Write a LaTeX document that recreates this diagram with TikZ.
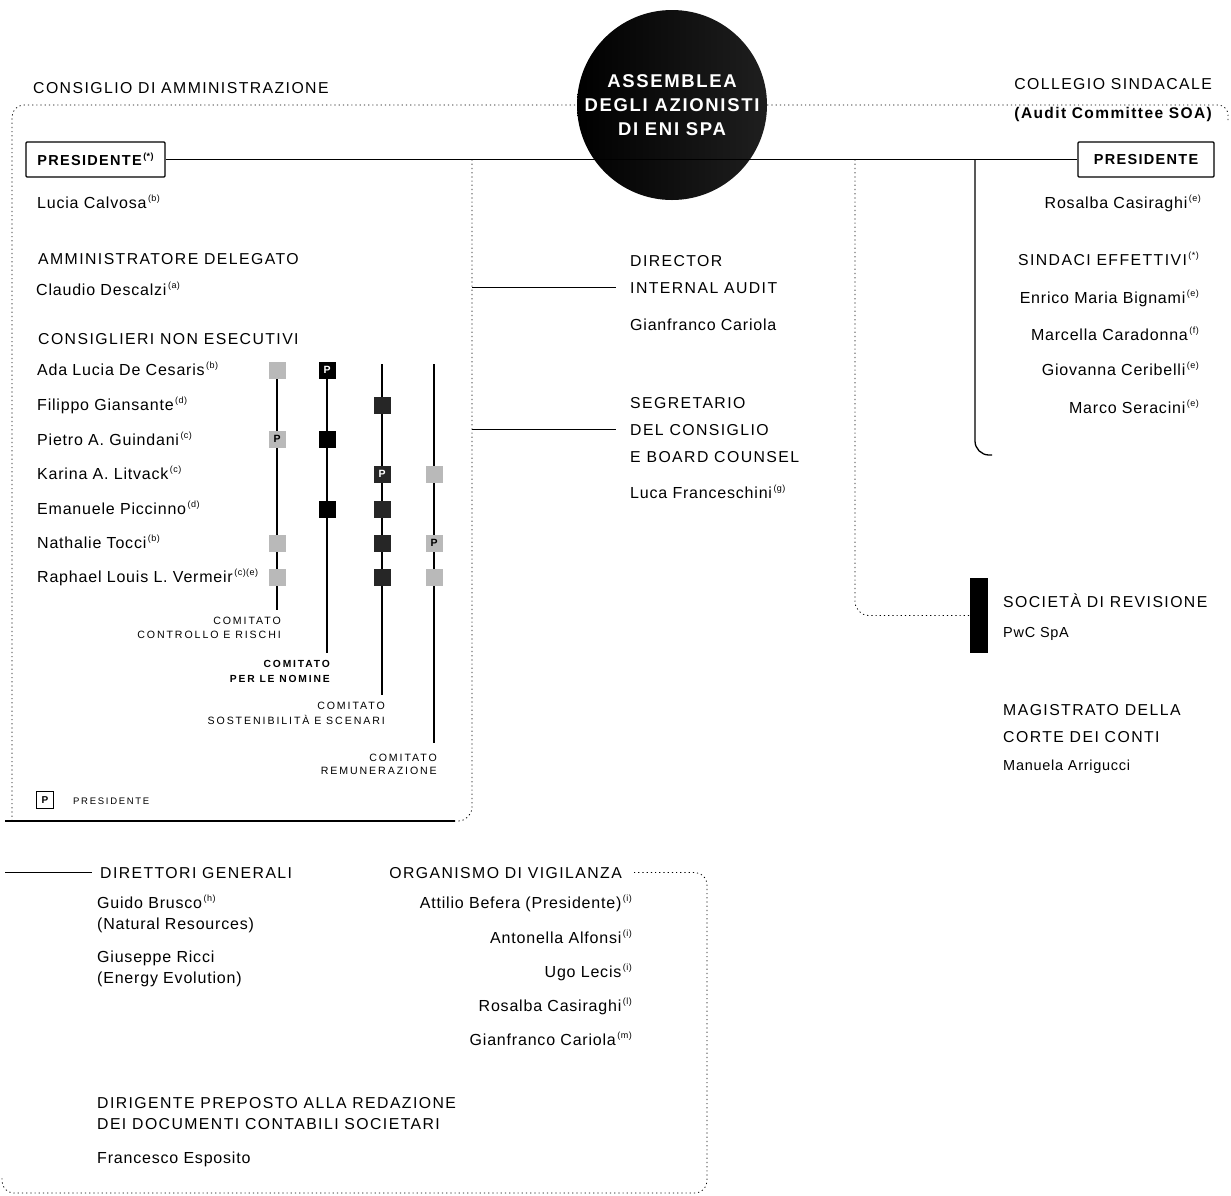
\documentclass[tikz,border=0pt]{standalone}
\usepackage{fontspec}
\setmainfont{Liberation Sans}
\newfontfamily\hdrf[LetterSpace=9]{Liberation Sans}
\newfontfamily\nmf[LetterSpace=5]{Liberation Sans}
\newfontfamily\smf[LetterSpace=18]{Liberation Sans}
\newcommand{\nt}[1]{\kern1.5pt\raisebox{0.42em}{\nmf\fontsize{9}{9}\selectfont(#1)}}
\begin{document}
\begin{tikzpicture}[x=1pt,y=-1pt,
  hdr/.style={font=\hdrf\fontsize{15.8}{18}\selectfont, inner sep=0pt},
  hdrb/.style={font=\hdrf\bfseries\fontsize{15.5}{18}\selectfont, inner sep=0pt},
  nm/.style={font=\nmf\fontsize{16}{18}\selectfont, inner sep=0pt},
  nms/.style={font=\nmf\fontsize{14.5}{16}\selectfont, inner sep=0pt},
  sm/.style={font=\smf\fontsize{10.6}{12}\selectfont, inner sep=0pt},
  smb/.style={font=\smf\bfseries\fontsize{10.3}{12}\selectfont, inner sep=0pt},
  tw/.style={anchor=base west},
  te/.style={anchor=base east},
  dotline/.style={line width=0.8pt, dash pattern=on 1.2pt off 3pt},
  solidline/.style={line width=1.3pt},
  cline/.style={line width=1.6pt},
  sq/.style={minimum size=17pt, inner sep=0pt, font=\bfseries\fontsize{10.5}{10}\selectfont},
  ccr/.style={sq, fill=gray!55},
  nom/.style={sq, fill=black, text=white},
  sos/.style={sq, fill=black!85, text=white},
  rem/.style={sq, fill=gray!55},
  pbox/.style={draw, line width=1.2pt, rounded corners=1pt, inner sep=0pt, minimum height=35pt, font=\hdrf\bfseries\fontsize{14.5}{16}\selectfont},
]
\fill[white] (0,0) rectangle (1231,1195);
\useasboundingbox (0,0) rectangle (1231,1195);

% ---------- central circle ----------
\node[circle, shading=axis, left color=black, right color=black!88, minimum size=190pt, inner sep=0pt,
      text=white, align=center, font=\hdrf\bfseries\fontsize{18.5}{24}\selectfont] (ass) at (672,105)
      {ASSEMBLEA\\DEGLI AZIONISTI\\DI ENI SPA};

% ---------- presidente boxes ----------
\node[pbox, minimum width=139pt] (presL) at (95.5,159.5) {PRESIDENTE\nt{*}};
\node[pbox, minimum width=136pt] (presR) at (1146,159.5) {PRESIDENTE};

% ---------- coordinates ----------
\coordinate (cdaBL) at (12,821);
\coordinate (botL) at (5,821);
\coordinate (botEnd) at (455,821);
\coordinate (cdaTR) at (472,159.5);
\coordinate (tr) at (1228,120);
\coordinate (rv0) at (855,159.5);
\coordinate (cs0) at (975,159.5);
\coordinate (cs1) at (992,455);
\coordinate (dgL) at (5,875);
\coordinate (ovBR) at (707,1193);
\coordinate (ovBL) at (2,1176);

% ---------- texts: consiglio di amministrazione ----------
\node[hdr, tw] (cda) at (33,93) {CONSIGLIO DI AMMINISTRAZIONE};
\node[nm, tw] (calv) at (37,208) {Lucia Calvosa\nt{b}};
\node[hdr, tw] (ad) at (38,264) {AMMINISTRATORE DELEGATO};
\node[nm, tw] (desc) at (36,295) {Claudio Descalzi\nt{a}};
\node[hdr, tw] (cne) at (38,344) {CONSIGLIERI NON ESECUTIVI};
\node[nm, tw] (m1) at (37,375) {Ada Lucia De Cesaris\nt{b}};
\node[nm, tw] (m2) at (37,410) {Filippo Giansante\nt{d}};
\node[nm, tw] (m3) at (37,445) {Pietro A. Guindani\nt{c}};
\node[nm, tw] (m4) at (37,479) {Karina A. Litvack\nt{c}};
\node[nm, tw] (m5) at (37,514) {Emanuele Piccinno\nt{d}};
\node[nm, tw] (m6) at (37,548) {Nathalie Tocci\nt{b}};
\node[nm, tw] (m7) at (37,582) {Raphael Louis L. Vermeir\nt{c}\kern-1pt\nt{e}};

% ---------- committees ----------
\coordinate (c1t) at (277,370); \coordinate (c1b) at (277,610);
\coordinate (c2t) at (327,370); \coordinate (c2b) at (327,653);
\coordinate (c3t) at (382,364); \coordinate (c3b) at (382,695);
\coordinate (c4t) at (434,364); \coordinate (c4b) at (434,743);
\draw[cline] (c1t) -- (c1b);
\draw[cline] (c2t) -- (c2b);
\draw[cline] (c3t) -- (c3b);
\draw[cline] (c4t) -- (c4b);

\node[ccr] (s11) at (277,370) {};
\node[nom] (s12) at (327,370) {P};
\node[sos] (s23) at (382,405) {};
\node[ccr] (s31) at (277,439) {P};
\node[nom] (s32) at (327,439) {};
\node[sos] (s43) at (382,474) {P};
\node[rem] (s44) at (434,474) {};
\node[nom] (s52) at (327,509) {};
\node[sos] (s53) at (382,509) {};
\node[ccr] (s61) at (277,543) {};
\node[sos] (s63) at (382,543) {};
\node[rem] (s64) at (434,543) {P};
\node[ccr] (s71) at (277,577) {};
\node[sos] (s73) at (382,577) {};
\node[rem] (s74) at (434,577) {};

\node[sm, te] (k1a) at (281,624) {COMITATO};
\node[sm, te] (k1b) at (281,638) {CONTROLLO E RISCHI};
\node[smb, te] (k2a) at (330,667) {COMITATO};
\node[smb, te] (k2b) at (330,682) {PER LE NOMINE};
\node[sm, te] (k3a) at (385,709) {COMITATO};
\node[sm, te] (k3b) at (385,724) {SOSTENIBILITÀ E SCENARI};
\node[sm, te] (k4a) at (437,761) {COMITATO};
\node[sm, te] (k4b) at (437,774) {REMUNERAZIONE};

\node[draw, line width=1pt, minimum size=17pt, inner sep=0pt, font=\bfseries\fontsize{10}{10}\selectfont] (lgP) at (45,800) {P};
\node[font=\smf\fontsize{9.5}{11}\selectfont, inner sep=0pt, tw] (lgT) at (73,804) {PRESIDENTE};

% ---------- middle ----------
\node[hdr, tw] (ia1) at (630,266) {DIRECTOR};
\node[hdr, tw] (ia2) at (630,293) {INTERNAL AUDIT};
\node[nm, tw] (ia3) at (630,330) {Gianfranco Cariola};
\node[hdr, tw] (sg1) at (630,408) {SEGRETARIO};
\node[hdr, tw] (sg2) at (630,435) {DEL CONSIGLIO};
\node[hdr, tw] (sg3) at (630,462) {E BOARD COUNSEL};
\node[nm, tw] (sg4) at (630,498) {Luca Franceschini\nt{g}};

% ---------- collegio sindacale ----------
\node[hdr, te] (cs) at (1212,89) {COLLEGIO SINDACALE};
\node[hdrb, te] (soa) at (1212,118) {(Audit Committee SOA)};
\node[nm, te] (rc) at (1201,208) {Rosalba Casiraghi\nt{e}};
\node[hdr, te] (se) at (1199,265) {SINDACI EFFETTIVI\nt{*}};
\node[nm, te] (se1) at (1199,303) {Enrico Maria Bignami\nt{e}};
\node[nm, te] (se2) at (1199,340) {Marcella Caradonna\nt{f}};
\node[nm, te] (se3) at (1199,375) {Giovanna Ceribelli\nt{e}};
\node[nm, te] (se4) at (1199,413) {Marco Seracini\nt{e}};

\node[fill=black, minimum width=18pt, minimum height=75pt, inner sep=0pt] (rbar) at (979,615.5) {};
\node[hdr, tw] (rev) at (1003,607) {SOCIETÀ DI REVISIONE};
\node[nms, tw] (pwc) at (1003,637) {PwC SpA};
\node[hdr, tw] (mg1) at (1003,715.5) {MAGISTRATO DELLA};
\node[hdr, tw] (mg2) at (1003,742.5) {CORTE DEI CONTI};
\node[nms, tw] (mg3) at (1003,770) {Manuela Arrigucci};

% ---------- bottom ----------
\node[hdr, tw] (dg) at (100,878) {DIRETTORI GENERALI};
\node[nm, tw] (dg1) at (97,908) {Guido Brusco\nt{h}};
\node[nm, tw] (dg2) at (97,929) {(Natural Resources)};
\node[nm, tw] (dg3) at (97,962) {Giuseppe Ricci};
\node[nm, tw] (dg4) at (97,983) {(Energy Evolution)};
\node[hdr, te] (odv) at (622,878) {ORGANISMO DI VIGILANZA};
\node[nm, te] (ov1) at (632,908) {Attilio Befera (Presidente)\nt{i}};
\node[nm, te] (ov2) at (632,943) {Antonella Alfonsi\nt{i}};
\node[nm, te] (ov3) at (632,977) {Ugo Lecis\nt{i}};
\node[nm, te] (ov4) at (632,1011) {Rosalba Casiraghi\nt{l}};
\node[nm, te] (ov5) at (632,1045) {Gianfranco Cariola\nt{m}};
\node[hdr, tw] (dp1) at (97,1108) {DIRIGENTE PREPOSTO ALLA REDAZIONE};
\node[hdr, tw] (dp2) at (97,1129) {DEI DOCUMENTI CONTABILI SOCIETARI};
\node[nm, tw] (dp3) at (97,1163) {Francesco Esposito};

% ---------- connectors ----------
\draw[dotline, rounded corners=12pt] (cdaBL) |- (ass.west);
\draw[dotline, rounded corners=10pt] (ass.east) -| (tr);
\draw[solidline] (presL.east) -- (presR.west);
\draw[dotline, rounded corners=14pt] (cdaTR) |- (botEnd);
\draw[line width=1.1pt] (botL) -- (botEnd);
\draw[solidline] (cdaTR |- ia2.west) -- ([xshift=-14pt]ia2.west);
\draw[solidline] (cdaTR |- sg2.west) -- ([xshift=-14pt]sg2.west);
\draw[dotline, rounded corners=14pt] (rv0) |- (rbar.west);
\draw[solidline, rounded corners=14pt] (cs0) |- (cs1);
\draw[solidline] (dg.west -| dgL) -- ([xshift=-8pt]dg.west);
\draw[dotline, rounded corners=12pt] ([xshift=12pt]odv.east) -| (ovBR) -| (ovBL);
\end{tikzpicture}
\end{document}
